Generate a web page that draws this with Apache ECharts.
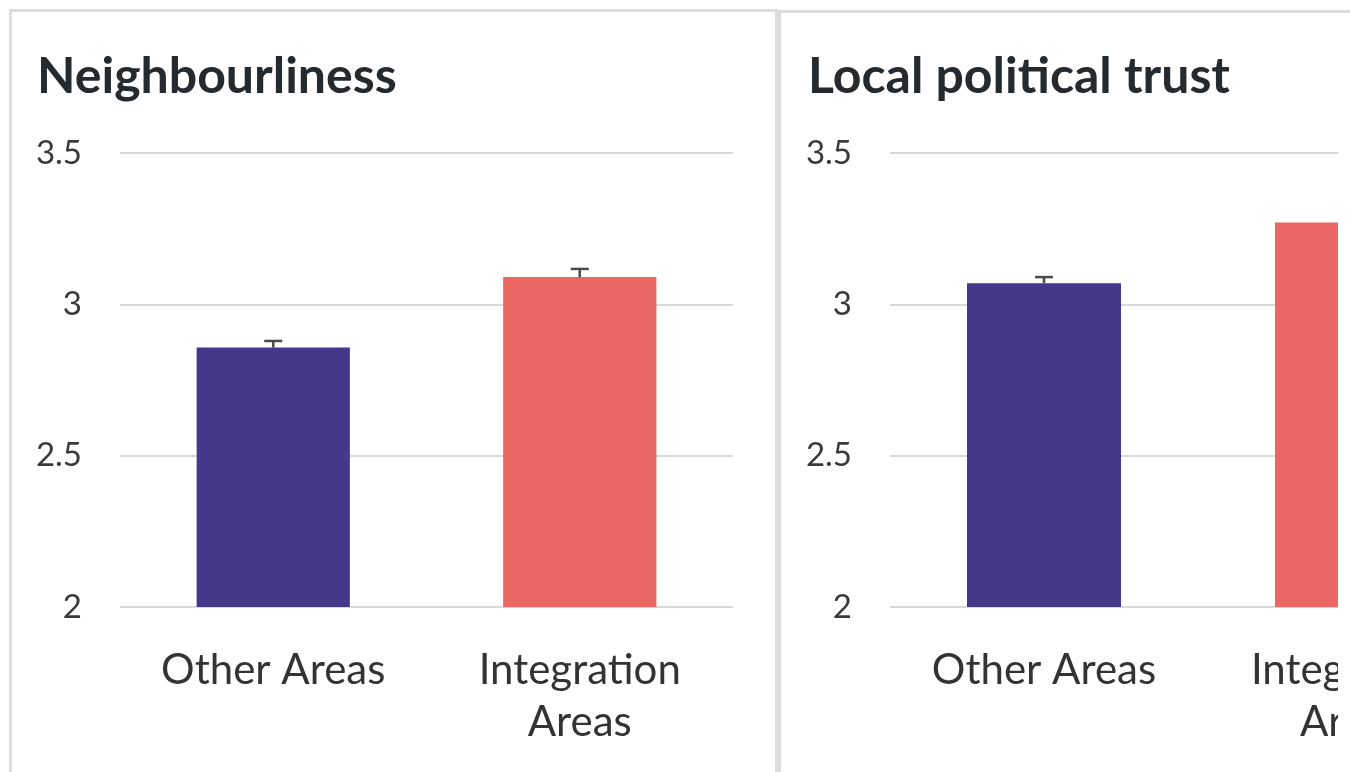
<!DOCTYPE html>
<html>
<head>
<meta charset="utf-8">
<script src="https://cdn.jsdelivr.net/npm/echarts@6/dist/echarts.min.js"></script>
<style>
  html, body { margin: 0; padding: 0; background: #ffffff; }
  #wrap { position: absolute; left: 0; top: 0; width: 1338px; height: 772px; overflow: hidden; }
  #chart { position: absolute; left: 0; top: 0; width: 1560px; height: 772px; }
  .panel { position: absolute; border: 3px solid #dcdcdc; border-bottom: none; box-sizing: border-box; }
</style>
</head>
<body>
<div class="panel" style="left:9px; top:9px; width:769px; height:800px;"></div>
<div class="panel" style="left:778px; top:10px; width:600px; height:800px; border-right:none;"></div>
<div id="wrap"><div id="chart"></div></div>
<script>
// ---- data ----
const titles = ['Neighbourliness', 'Local political trust'];
const categories = ['Other Areas', 'Integration\nAreas'];
const neighbourlinessValues = [2.857, 3.09];
const neighbourlinessErrHigh = [2.879, 3.117];
const politicalTrustValues = [3.07, 3.27];
const politicalTrustErrHigh = [3.09, 3.29];
const yTicks = { min: 2, max: 3.5, interval: 0.5 };
const barColors = ['#45378a', '#ea6763'];

const chart = echarts.init(document.getElementById('chart'), null, { renderer: 'canvas' });

const FONT = 'Lato';
const grids = [
  { left: 120, top: 153, width: 613, height: 454 },
  { left: 890, top: 153, width: 616, height: 454 }
];

function errSeries(idx, highs, vals) {
  return {
    type: 'custom',
    xAxisIndex: idx, yAxisIndex: idx,
    z: 5,
    data: vals.map((v, i) => [i, v, highs[i]]),
    renderItem: function (params, api) {
      const lo = api.coord([api.value(0), api.value(1)]);
      const hi = api.coord([api.value(0), api.value(2)]);
      const hw = 9;
      const style = { stroke: '#4a4a4a', lineWidth: 2.5 };
      return {
        type: 'group',
        children: [
          { type: 'line', shape: { x1: lo[0], y1: lo[1], x2: hi[0], y2: hi[1] }, style: style },
          { type: 'line', shape: { x1: hi[0] - hw, y1: hi[1], x2: hi[0] + hw, y2: hi[1] }, style: style }
        ]
      };
    }
  };
}

function xAxis(idx) {
  return {
    type: 'category', gridIndex: idx, data: categories,
    axisLine: { show: false }, axisTick: { show: false },
    axisLabel: { color: '#333333', fontFamily: FONT, fontSize: 42, lineHeight: 52, margin: 37, interval: 0 }
  };
}
function yAxis(idx) {
  return {
    type: 'value', gridIndex: idx, min: yTicks.min, max: yTicks.max, interval: yTicks.interval,
    axisLine: { show: false }, axisTick: { show: false },
    axisLabel: { color: '#3a3a3a', fontFamily: FONT, fontSize: 33, margin: 38 },
    splitLine: { show: true, lineStyle: { color: '#d9d9d9', width: 2 } }
  };
}
function barSeries(idx, vals) {
  return {
    type: 'bar', xAxisIndex: idx, yAxisIndex: idx, barWidth: '50%',
    data: vals.map((v, i) => ({ value: v, itemStyle: { color: barColors[i] } })),
    animation: false
  };
}

chart.setOption({
  animation: false,
  title: [
    { text: titles[0], left: 32, top: 47, textStyle: { fontFamily: FONT, fontWeight: 'bold', fontSize: 50, color: '#252a2f' } },
    { text: titles[1], left: 803, top: 47, textStyle: { fontFamily: FONT, fontWeight: 'bold', fontSize: 50, color: '#252a2f' } }
  ],
  grid: grids,
  xAxis: [xAxis(0), xAxis(1)],
  yAxis: [yAxis(0), yAxis(1)],
  series: [
    barSeries(0, neighbourlinessValues),
    barSeries(1, politicalTrustValues),
    errSeries(0, neighbourlinessErrHigh, neighbourlinessValues),
    errSeries(1, politicalTrustErrHigh, politicalTrustValues)
  ]
});
</script>
</body>
</html>
